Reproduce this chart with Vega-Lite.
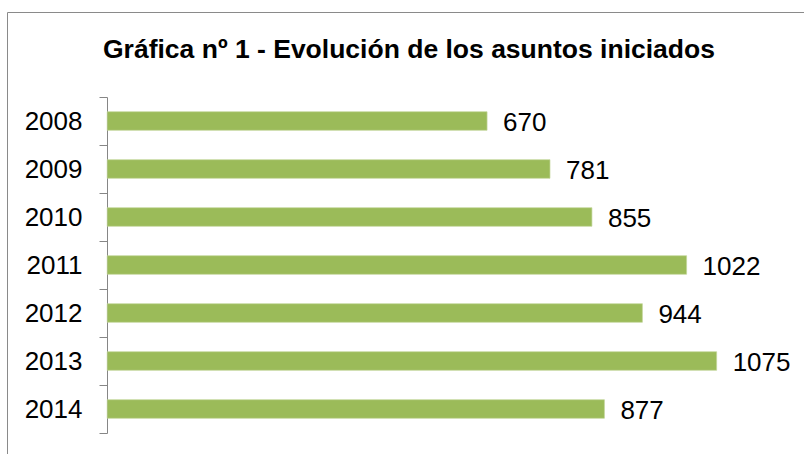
{
  "$schema": "https://vega.github.io/schema/vega-lite/v6.json",
  "autosize": {"type": "none"},
  "padding": {"left": 7, "top": 12, "right": -2, "bottom": -2},
  "width": 799,
  "height": 444,
  "background": "white",
  "title": {
    "text": "Gráfica nº 1 - Evolución de los asuntos iniciados",
    "font": "Liberation Sans",
    "fontSize": 26.5,
    "fontWeight": "bold",
    "color": "#000000",
    "anchor": "start",
    "baseline": "alphabetic",
    "offset": -46,
    "dy": 39,
    "dx": 96
  },
  "data": {
    "values": [
      {"year": "2008", "asuntos": 670},
      {"year": "2009", "asuntos": 781},
      {"year": "2010", "asuntos": 855},
      {"year": "2011", "asuntos": 1022},
      {"year": "2012", "asuntos": 944},
      {"year": "2013", "asuntos": 1075},
      {"year": "2014", "asuntos": 877}
    ]
  },
  "encoding": {
    "y": {
      "field": "year",
      "type": "ordinal",
      "sort": null,
      "scale": {"range": [85, 421], "paddingInner": 0, "paddingOuter": 0},
      "axis": {
        "title": null,
        "orient": "left",
        "offset": -100,
        "tickBand": "extent",
        "tickSize": 8,
        "tickColor": "#868686",
        "domainColor": "#868686",
        "labelPadding": 17,
        "labelFont": "Liberation Sans",
        "labelFontSize": 26,
        "labelColor": "#000000",
        "labelBaseline": "middle"
      }
    }
  },
  "layer": [
    {
      "mark": {
        "type": "bar",
        "color": "#9BBB59",
        "stroke": "#C3D69B",
        "strokeWidth": 0.7,
        "height": {"band": 0.3875}
      },
      "encoding": {
        "x": {
          "field": "asuntos",
          "type": "quantitative",
          "scale": {"domain": [-176.8, 1232.6], "nice": false, "zero": false},
          "axis": null
        },
        "x2": {"datum": 0}
      }
    },
    {
      "mark": {
        "type": "text",
        "align": "left",
        "baseline": "middle",
        "dx": 16,
        "dy": 2,
        "font": "Liberation Sans",
        "fontSize": 26,
        "color": "#000000"
      },
      "encoding": {
        "x": {"field": "asuntos", "type": "quantitative"},
        "text": {"field": "asuntos", "type": "quantitative"}
      }
    }
  ],
  "config": {
    "view": {"stroke": "#8a8a8a", "strokeWidth": 1}
  }
}
